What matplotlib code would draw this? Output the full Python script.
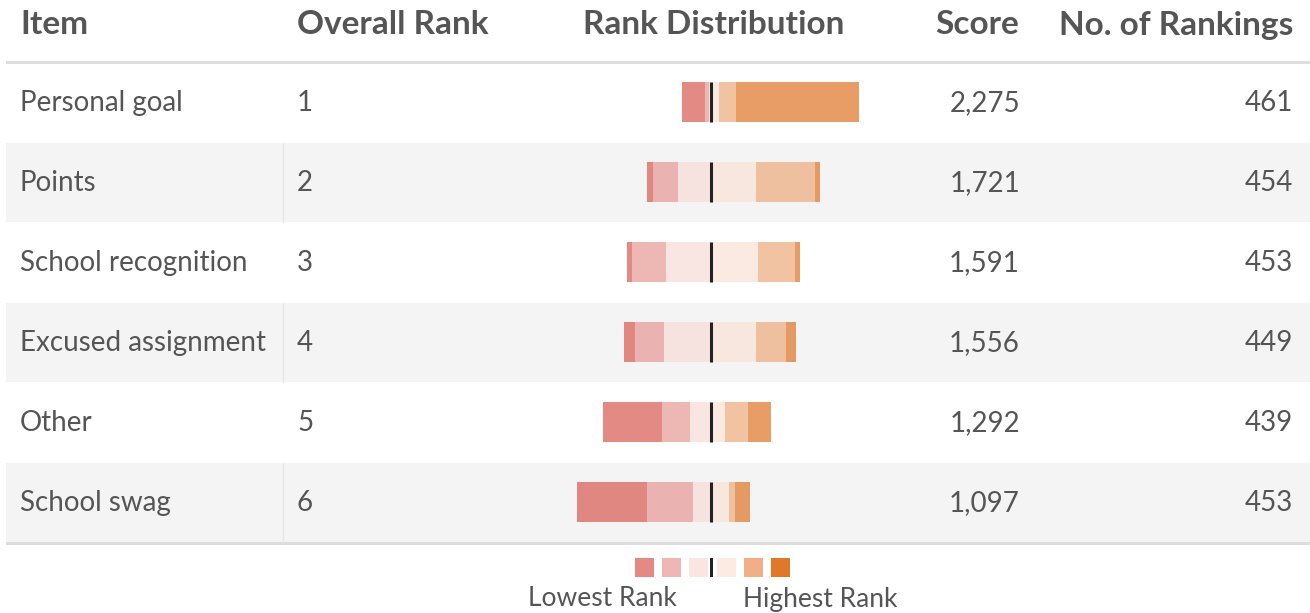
import matplotlib.pyplot as plt
from matplotlib.patches import Rectangle

plt.rcParams['font.family'] = ['Lato', 'DejaVu Sans']

# data
items = ["Personal goal", "Points", "School recognition", "Excused assignment", "Other", "School swag"]
overall_rank = [1, 2, 3, 4, 5, 6]
scores = [2275, 1721, 1591, 1556, 1292, 1097]
n_rankings = [461, 454, 453, 449, 439, 453]
# counts per rank bucket, lowest rank -> highest rank
rank_counts = [
    [58, 12, 6, 20, 44, 321],
    [16, 65, 88, 117, 155, 13],
    [13, 91, 118, 121, 97, 13],
    [29, 76, 124, 117, 79, 24],
    [153, 75, 55, 35, 61, 60],
    [183, 119, 49, 46, 16, 40],
]
headers = ["Item", "Overall Rank", "Rank Distribution", "Score", "No. of Rankings"]
legend_labels = ["Lowest Rank", "Highest Rank"]

bar_colors = ["#d85d54", "#e79b98", "#f7dbd8", "#f9e3d7", "#ecac7f", "#e0782d"]
legend_colors = ["#e38a84", "#eeb7b5", "#fae5e3", "#fbebe2", "#efb088", "#e07828"]
txt = "#555555"

W, H = 1310, 613
fig = plt.figure(figsize=(W / 100, H / 100), dpi=100)
ax = fig.add_axes([0, 0, 1, 1])
ax.set_xlim(0, W)
ax.set_ylim(H, 0)
ax.axis('off')

row_top, row_h = 62, 80

# header
hy, hfs = 25, 24
hkw = dict(va='center', fontsize=hfs, fontweight='bold', color=txt)
ax.text(20, hy, headers[0], ha='left', **hkw)
ax.text(297, hy, headers[1], ha='left', **hkw)
ax.text(714, hy, headers[2], ha='center', **hkw)
ax.text(1019, hy, headers[3], ha='right', **hkw)
ax.text(1293, hy, headers[4], ha='right', **hkw)
ax.add_patch(Rectangle((6, row_top - 1.5), W, 3, color='#dddddd', lw=0))

# row backgrounds and text
bfs = 20
for i, name in enumerate(items):
    top = row_top + i * row_h
    cy = top + row_h / 2 + 1
    if i % 2 == 1:
        ax.add_patch(Rectangle((6, top + 1), W, row_h - 1, color='#f4f4f4', lw=0))
        ax.plot([282.5, 282.5], [top + 1, top + row_h], color='#e6e6e6', lw=1)
    ax.text(20, cy, name, ha='left', va='center', fontsize=bfs, color=txt)
    ax.text(297, cy, str(overall_rank[i]), ha='left', va='center', fontsize=bfs, color=txt)
    ax.text(1020, cy, f"{scores[i]:,}", ha='right', va='center', fontsize=bfs, color=txt)
    ax.text(1293, cy, str(n_rankings[i]), ha='right', va='center', fontsize=bfs, color=txt)

bottom = row_top + len(items) * row_h
ax.add_patch(Rectangle((6, bottom), W, 3, color='#dddddd', lw=0))

# diverging bars, in counts
center_px, px_per = 711.5, 0.382
bax = fig.add_axes([0, 0, 1, 1])
bax.patch.set_alpha(0)
bax.axis('off')
bax.set_xlim(-center_px / px_per, (W - center_px) / px_per)
bax.set_ylim((H - 102) / row_h, -102 / row_h)

bh = 0.49
for i, counts in enumerate(rank_counts):
    left_part = counts[:3]
    right_part = counts[3:]
    start = -sum(left_part)
    for k, c in enumerate(left_part):
        bax.barh(i, c, left=start, height=bh, color=bar_colors[k], alpha=0.72, linewidth=0)
        start += c
    start = 0
    for k, c in enumerate(right_part):
        bax.barh(i, c, left=start, height=bh, color=bar_colors[k + 3], alpha=0.72, linewidth=0)
        start += c
    bax.vlines(0, i - bh / 2, i + bh / 2, color='#222222', lw=2.2, zorder=5)

# legend
sq, gap = 19, 27
lx = [635 + k * gap for k in range(3)] + [717 + k * gap for k in range(3)]
for k, x in enumerate(lx):
    ax.add_patch(Rectangle((x, 558), sq, sq, color=legend_colors[k], lw=0))
ax.add_patch(Rectangle((710, 558), 3, sq, color='#222222', lw=0))
ax.text(602, 599, legend_labels[0], ha='center', va='center', fontsize=19, color=txt)
ax.text(820, 599, legend_labels[1], ha='center', va='center', fontsize=19, color=txt)

fig.savefig('out.png', dpi=100)
